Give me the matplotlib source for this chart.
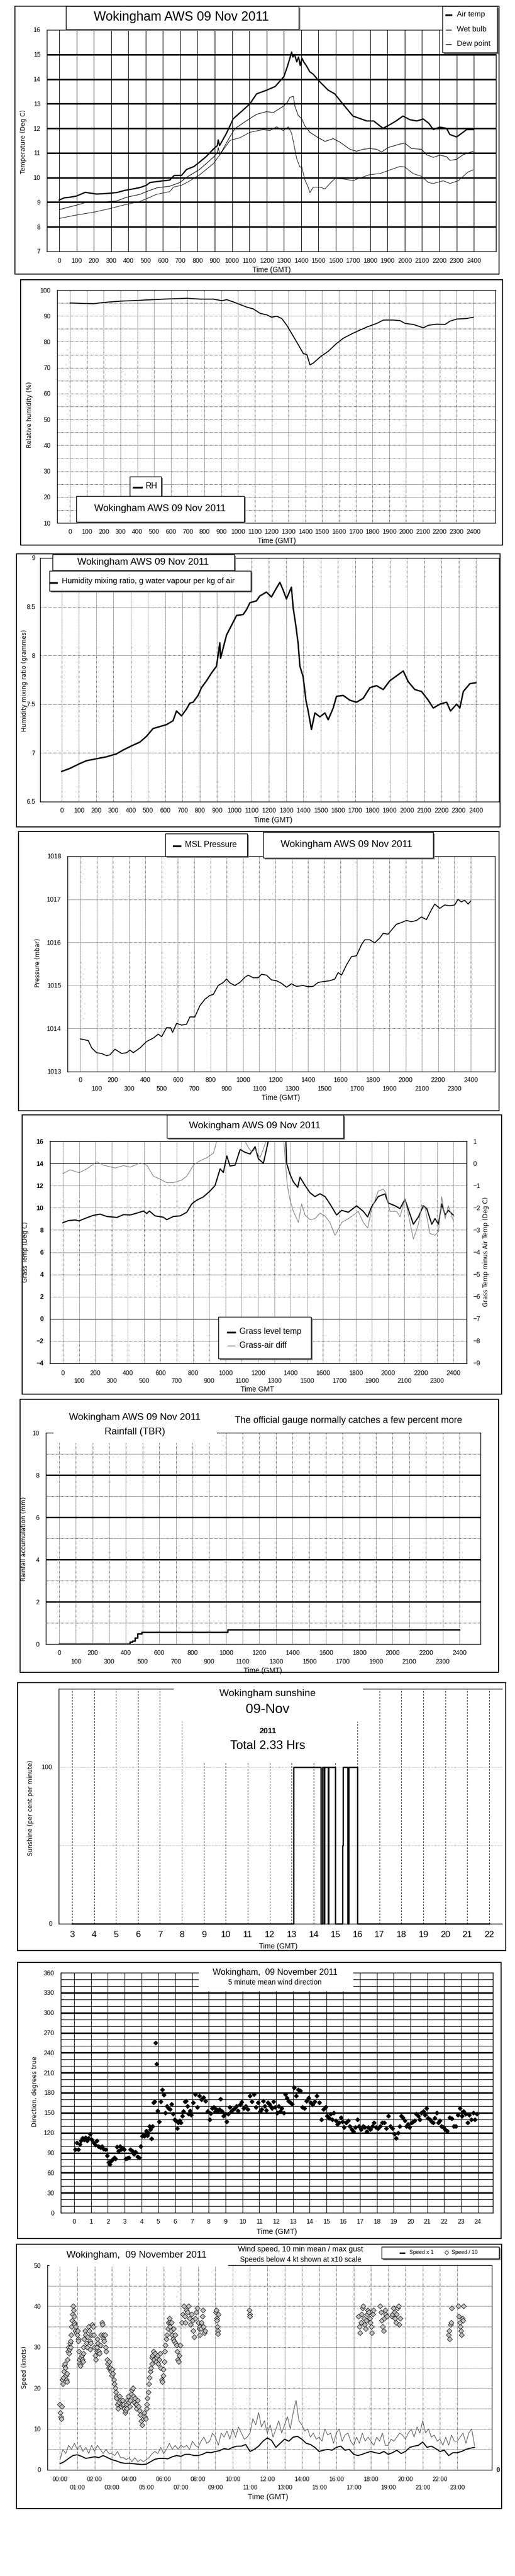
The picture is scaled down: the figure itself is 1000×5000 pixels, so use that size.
import numpy as np
import matplotlib.pyplot as plt
import matplotlib as mpl
from matplotlib.patches import Rectangle
from matplotlib.lines import Line2D

mpl.rcParams['font.family'] = ['Liberation Sans', 'DejaVu Sans']
mpl.rcParams['axes.linewidth'] = 1.0
YFONT = ['DejaVu Sans']

################## data ##################
# times on a linear 0-2400 (hhmm style) axis
air_t = [0, 30, 60, 100, 150, 216, 270, 332, 380, 428, 470, 505, 525, 580, 640, 664, 708, 737, 780, 814,
         850, 891, 915, 920, 928, 968, 1007, 1065, 1104, 1142, 1200, 1250, 1300, 1320, 1335, 1345, 1352, 1362,
         1375, 1385, 1395, 1405, 1415, 1430, 1450, 1470, 1500, 1557, 1595, 1644, 1700, 1740, 1780, 1820, 1856,
         1875, 1900, 1914, 1950, 1990, 2030, 2070, 2107, 2140, 2165, 2203, 2242, 2261, 2300, 2330, 2358, 2396]
air_v = [9.09, 9.18, 9.2, 9.25, 9.4, 9.33, 9.35, 9.39, 9.48, 9.54, 9.6, 9.69, 9.8, 9.85, 9.9, 10.08, 10.09,
         10.33, 10.45, 10.64, 10.85, 11.15, 11.3, 11.53, 11.3, 11.8, 12.39, 12.75, 13.0, 13.4, 13.55, 13.7,
         14.1, 14.5, 14.85, 15.1, 14.9, 15.0, 14.7, 14.9, 14.55, 14.85, 14.7, 14.55, 14.3, 14.2, 13.95, 13.55,
         13.4, 12.97, 12.5, 12.4, 12.3, 12.3, 12.1, 12.0, 12.1, 12.15, 12.3, 12.5, 12.35, 12.3, 12.38, 12.2,
         11.95, 12.05, 12.0, 11.75, 11.65, 11.8, 11.95, 11.95]
wet_t = [0, 100, 158, 230, 332, 390, 467, 505, 563, 640, 698, 737, 814, 891, 915, 920, 930, 988, 1017, 1084,
         1142, 1200, 1239, 1297, 1320, 1335, 1355, 1364, 1383, 1403, 1422, 1451, 1490, 1538, 1586, 1625, 1682,
         1721, 1760, 1798, 1837, 1866, 1904, 1972, 2000, 2039, 2097, 2126, 2165, 2203, 2242, 2261, 2300, 2338,
         2396]
wet_v = [8.7, 8.88, 9.0, 9.0, 9.05, 9.2, 9.32, 9.43, 9.58, 9.65, 9.8, 10.01, 10.34, 10.82, 11.0, 11.22, 10.93,
         11.66, 11.99, 12.31, 12.57, 12.68, 12.64, 12.9, 13.05, 13.26, 13.3, 12.9, 12.53, 12.39, 12.1, 11.84,
         11.66, 11.47, 11.58, 11.44, 11.15, 11.07, 11.15, 11.18, 11.15, 11.04, 11.22, 11.36, 11.4, 11.18, 11.15,
         10.93, 10.82, 10.91, 10.85, 10.7, 10.74, 10.93, 11.07]
dew_t = [0, 100, 197, 293, 370, 467, 505, 563, 640, 660, 708, 747, 814, 891, 930, 988, 1046, 1104, 1181, 1219,
         1258, 1297, 1326, 1345, 1358, 1374, 1393, 1403, 1422, 1441, 1451, 1470, 1509, 1538, 1567, 1596, 1644,
         1702, 1740, 1798, 1856, 1914, 1972, 2000, 2049, 2097, 2136, 2165, 2223, 2261, 2310, 2338, 2367, 2396]
dew_v = [8.34, 8.48, 8.59, 8.74, 8.88, 9.03, 9.14, 9.32, 9.43, 9.61, 9.69, 9.83, 10.12, 10.56, 10.93, 11.51,
         11.62, 11.84, 11.95, 11.91, 12.06, 11.91, 12.06, 11.8, 11.36, 10.78, 10.42, 10.45, 9.9, 9.61, 9.39,
         9.61, 9.61, 9.54, 9.76, 9.96, 9.94, 9.88, 9.98, 10.12, 10.16, 10.31, 10.45, 10.43, 10.16, 10.05, 9.8,
         9.76, 9.87, 9.76, 9.87, 10.05, 10.23, 10.31]

rh_t = [0, 139, 198, 298, 397, 496, 556, 694, 774, 853, 903, 933, 972, 1012, 1052, 1091, 1131, 1171, 1200, 1230,
        1260, 1290, 1329, 1359, 1389, 1409, 1428, 1448, 1488, 1538, 1587, 1627, 1687, 1766, 1825, 1865, 1925,
        1964, 1994, 2044, 2103, 2133, 2183, 2232, 2262, 2302, 2361, 2400]
rh_v = [95.0, 94.7, 95.2, 95.7, 96.0, 96.3, 96.5, 96.8, 96.5, 96.5, 95.9, 96.3, 95.4, 94.4, 93.4, 92.7, 91.0,
        90.4, 89.5, 89.9, 89.0, 86.4, 82.1, 78.8, 75.4, 75.1, 71.1, 71.8, 74.1, 76.4, 79.4, 81.4, 83.4, 85.7,
        87.1, 88.4, 88.4, 88.2, 87.1, 86.7, 85.4, 86.4, 86.8, 86.7, 88.0, 88.8, 89.0, 89.5]

mr_t = [0, 46, 104, 143, 201, 259, 317, 356, 414, 452, 491, 529, 568, 607, 645, 665, 694, 723, 742, 761, 790,
        810, 839, 868, 897, 916, 920, 955, 993, 1013, 1051, 1071, 1090, 1128, 1148, 1186, 1215, 1244, 1264, 1283,
        1302, 1331, 1341, 1357, 1370, 1380, 1399, 1415, 1428, 1447, 1467, 1496, 1525, 1544, 1573, 1592, 1631,
        1670, 1708, 1747, 1786, 1824, 1863, 1901, 1940, 1979, 2008, 2046, 2085, 2124, 2153, 2191, 2230, 2253,
        2288, 2307, 2327, 2365, 2400]
mr_v = [6.81, 6.84, 6.89, 6.92, 6.94, 6.96, 6.99, 7.03, 7.08, 7.11, 7.17, 7.25, 7.27, 7.29, 7.33, 7.43, 7.38,
        7.45, 7.51, 7.52, 7.59, 7.67, 7.74, 7.82, 7.89, 8.13, 7.97, 8.21, 8.34, 8.41, 8.42, 8.47, 8.54, 8.56,
        8.61, 8.65, 8.6, 8.69, 8.75, 8.67, 8.58, 8.70, 8.49, 8.30, 8.12, 7.89, 7.78, 7.54, 7.43, 7.24, 7.41,
        7.37, 7.41, 7.34, 7.46, 7.58, 7.59, 7.54, 7.52, 7.56, 7.67, 7.69, 7.65, 7.74, 7.79, 7.84, 7.73, 7.65,
        7.63, 7.54, 7.46, 7.50, 7.52, 7.43, 7.5, 7.46, 7.63, 7.71, 7.72]

p_t = [0, 49, 70, 100, 131, 162, 182, 213, 254, 285, 305, 326, 367, 408, 449, 479, 500, 530, 555, 567, 592, 623,
       653, 674, 704, 735, 766, 797, 817, 848, 879, 899, 920, 950, 981, 1012, 1032, 1063, 1094, 1114, 1145, 1175,
       1206, 1237, 1268, 1298, 1329, 1370, 1401, 1432, 1462, 1493, 1534, 1565, 1585, 1606, 1637, 1667, 1698,
       1729, 1749, 1780, 1810, 1841, 1862, 1892, 1923, 1943, 1974, 2005, 2036, 2067, 2097, 2128, 2159, 2179,
       2210, 2240, 2271, 2302, 2322, 2343, 2363, 2384, 2400]
p_v = [1013.76, 1013.72, 1013.55, 1013.44, 1013.42, 1013.37, 1013.39, 1013.52, 1013.42, 1013.44, 1013.50,
       1013.44, 1013.55, 1013.70, 1013.78, 1013.87, 1013.81, 1014.02, 1014.02, 1013.91, 1014.12, 1014.08,
       1014.10, 1014.27, 1014.27, 1014.53, 1014.68, 1014.77, 1014.79, 1015.00, 1015.07, 1015.15, 1015.06,
       1015.00, 1015.07, 1015.19, 1015.24, 1015.18, 1015.18, 1015.26, 1015.24, 1015.13, 1015.11, 1015.05,
       1014.96, 1015.04, 1014.98, 1015.00, 1014.97, 1014.98, 1015.07, 1015.09, 1015.11, 1015.15, 1015.30,
       1015.24, 1015.48, 1015.67, 1015.69, 1015.95, 1016.06, 1016.06, 1015.99, 1016.10, 1016.21, 1016.19,
       1016.33, 1016.42, 1016.46, 1016.51, 1016.48, 1016.51, 1016.59, 1016.53, 1016.76, 1016.89, 1016.79,
       1016.87, 1016.85, 1016.87, 1017.00, 1016.94, 1016.98, 1016.89, 1016.96]

grass_t = [0, 35, 76, 100, 147, 188, 229, 270, 332, 373, 414, 455, 496, 516, 532, 567, 618, 639, 680, 721, 762,
           793, 823, 864, 905, 936, 967, 987, 1008, 1028, 1059, 1090, 1120, 1151, 1182, 1202, 1233, 1253, 1270,
           1300, 1340, 1370, 1376, 1397, 1417, 1444, 1458, 1489, 1520, 1550, 1581, 1612, 1642, 1683, 1714, 1755,
           1806, 1847, 1874, 1898, 1939, 1980, 2001, 2042, 2073, 2103, 2124, 2155, 2186, 2216, 2237, 2268, 2288,
           2309, 2329, 2350, 2370, 2400]
grass_v = [8.65, 8.85, 8.9, 8.82, 9.1, 9.32, 9.43, 9.22, 9.13, 9.38, 9.35, 9.52, 9.71, 9.48, 9.71, 9.27, 9.15,
           8.93, 9.22, 9.27, 9.6, 10.35, 10.68, 10.98, 11.51, 12.01, 13.51, 13.18, 14.67, 13.76, 13.84, 15.25,
           15.0, 14.84, 15.5, 14.42, 14.0, 15.33, 16.5, 17.5, 17.5, 16.5, 14.0, 13.0, 12.34, 11.84, 12.76, 12.01,
           11.35, 11.01, 11.26, 11.01, 10.35, 9.35, 9.77, 9.6, 10.18, 9.68, 9.18, 10.1, 11.01, 11.25, 10.43,
           10.18, 9.93, 10.76, 9.85, 8.52, 9.18, 10.18, 9.93, 8.52, 9.02, 8.52, 10.35, 9.35, 9.77, 9.35]
diff_t = [0, 45, 100, 147, 209, 250, 321, 373, 414, 475, 516, 557, 598, 639, 680, 731, 762, 803, 844, 885, 926,
          946, 1000, 1060, 1120, 1141, 1161, 1182, 1212, 1233, 1253, 1300, 1350, 1380, 1397, 1417, 1438, 1448,
          1468, 1489, 1520, 1550, 1581, 1612, 1642, 1673, 1687, 1714, 1755, 1786, 1816, 1847, 1874, 1898, 1939,
          1970, 1986, 2011, 2052, 2073, 2103, 2134, 2155, 2186, 2206, 2227, 2257, 2288, 2309, 2329, 2350, 2370,
          2400]
diff_v = [-0.46, -0.29, -0.42, -0.25, 0.07, -0.08, -0.21, -0.1, -0.17, 0.02, -0.08, -0.58, -0.71, -0.87, -0.87,
          -0.75, -0.58, -0.08, 0.12, 0.25, 0.46, 1.0, 1.6, 1.5, 1.0, 0.71, 0.5, 0.65, 0.25, 0.65, 1.1, 1.8, 1.8,
          -1.0, -1.66, -2.16, -2.49, -2.66, -1.83, -2.33, -2.54, -2.49, -2.24, -2.37, -2.66, -3.24, -3.07, -2.66,
          -2.49, -2.33, -2.16, -2.66, -2.91, -2.08, -1.25, -1.16, -1.33, -2.16, -2.16, -2.41, -1.58, -2.66,
          -3.41, -2.74, -1.87, -2.0, -3.16, -3.24, -3.07, -1.5, -2.49, -1.91, -2.58]

rain_t = [0, 424, 440, 455, 470, 494, 1010, 2400]
rain_v = [0, 0.1, 0.15, 0.3, 0.5, 0.57, 0.68, 0.68]

# sunshine, hours GMT, per cent per minute (step)
sun_t = [3, 13.08, 14.32, 14.40, 14.48, 14.50, 14.66, 14.68, 15.0, 15.31, 15.33, 15.55, 15.61, 15.99, 22]
sun_v = [0, 100, 0, 100, 0, 100, 0, 100, 0, 50, 100, 0, 100, 0, 0]

# 5 minute mean wind direction, grouped by hour
wdir = [
    [95, 105, 95, 103, 108, 112, 110, 113, 108, 112, 118],
    [110, 105, 102, 108, 100, 98, 100, 96, 95, 86],
    [76, 73, 78, 80, 83, 81, 99, 93, 100, 95, 97, 95],
    [81, 82, 83, 95, 93, 88, 91, 84, 83, 100],
    [115, 116, 115, 118, 123, 116, 120, 130, 125, 111, 130, 165, 167, 255, 223, 153],
    [137, 167, 185, 177, 150, 160, 157, 155, 163, 148, 140],
    [138, 127, 135, 138, 135, 145, 152, 167, 168, 160, 148, 153, 147],
    [165, 178, 158, 175, 170, 173, 168, 152],
    [140, 149, 157, 158, 152, 155, 153, 155, 171, 152, 145, 148],
    [137, 148, 158, 152, 155, 157, 160, 153, 162, 166],
    [157, 160, 155, 175, 167, 178, 158, 165],
    [152, 155, 168, 160, 154, 165, 163, 160, 157, 167, 158],
    [150, 160, 152, 157, 150, 178, 172, 168, 165, 163],
    [188, 175, 185, 183, 158, 157, 168, 172],
    [165, 162, 167, 175, 165, 140, 155, 158],
    [145, 142, 148, 140, 150, 138, 133, 135, 143, 137],
    [128, 135, 138, 130, 125, 122, 128, 140, 130],
    [125, 130, 128, 122, 128, 125, 130, 135, 128],
    [127, 130, 135, 135, 127, 145, 130, 127],
    [118, 112, 120, 130, 145, 143, 138, 130, 133, 128],
    [135, 137, 138, 148, 145, 140, 150, 152, 147, 157],
    [142, 140, 137, 135, 142, 150, 135, 138, 130, 128],
    [125, 123, 143, 141, 130, 130, 147, 157],
    [145, 152, 148, 135, 147, 140, 150, 140, 148],
]

# wind speed: 15 min mean (kt) and 10 min max gust (kt)
mean_kt = [1.5, 2, 2.8, 3.5, 3.7, 3.3, 2.8, 3, 3.2, 3, 3.5, 3, 2.5, 2.2, 1.8, 1.6, 1.6, 1.5, 1.4, 1.3,
           1.4, 2, 2.6, 2.8, 2.8, 2.7, 3.2, 3.5, 3.3, 3.8, 3.8, 3.5, 3.5, 3.8, 4.3, 4.2, 4.5, 4.7, 5.2, 5,
           5.5, 5.8, 5.8, 6.2, 4.5, 5, 5.8, 7, 7.8, 7.2, 5.5, 6.5, 7.5, 7, 8, 8.2, 7.5, 6.5, 6.2, 5.5,
           4.5, 4.8, 5, 4.8, 5.5, 5.8, 4.8, 5, 3.8, 3.5, 3.8, 4.2, 4.5, 4.2, 4, 4.5, 3.8, 4.2, 4.8, 4,
           4.5, 5.5, 5.8, 6, 6.8, 5.5, 5.8, 5.2, 4.5, 4.8, 3.5, 4.2, 4.2, 4.5, 5, 5.3, 5.5]
gust_kt = [2.5, 5, 4, 6, 5, 6.5, 5, 6, 4.5, 5.5, 4, 6, 4.5, 6, 5, 4, 5, 4, 4, 3.5, 4.5, 3, 3, 2.5,
           3, 2, 3, 2, 2.5, 2, 2.5, 3, 4, 4.5, 4, 5.5, 4, 5, 6.5, 5, 6, 5, 6, 5.5, 6, 5, 7, 6,
           5.5, 7, 8, 6.5, 7, 9, 8, 6, 9, 8, 9.5, 7.5, 10, 8, 10.5, 9, 7.5, 8, 9, 12.5, 11, 14, 10.5, 12,
           9, 11, 8, 10, 12, 9, 11, 13, 10, 14, 17, 12, 11, 9.5, 10, 8, 9, 7.5, 8, 7, 10, 8.5, 9, 6.5,
           9, 10, 7, 8.5, 9, 7, 6, 8, 6.5, 9, 7, 8, 7, 6, 8, 7, 9, 6, 6, 7.5, 7, 8, 9, 8.5,
           7.5, 9, 10, 8, 10.5, 9, 12, 9, 10, 8, 8.5, 7, 7.5, 6, 8, 6, 8.5, 7, 7, 8, 9, 6.5, 9, 10, 6]
# speeds below 4 kt at x10 scale: (start hour, end hour, values)
slow_groups = [
    (0.00, 0.10, [16, 14, 13, 12.5, 15.5]),
    (0.12, 0.39, [22, 21, 22.5, 24, 25.5, 26, 25, 23, 22, 21.5]),
    (0.39, 0.62, [23.5, 27, 29, 30, 28.5, 29.5, 31, 30]),
    (0.62, 0.81, [31.5, 33, 35, 36.5, 38, 40, 39, 37.5]),
    (0.81, 1.06, [36, 35.5, 34, 35, 33.5, 33, 34, 32]),
    (1.06, 1.35, [31.5, 29, 27, 26, 25.5, 27.5, 28, 27, 26.5, 28.5]),
    (1.35, 1.74, [30, 32, 34, 33, 31, 30, 32.5, 35, 34, 31.5]),
    (1.74, 2.12, [29.5, 31, 33, 35.5, 35, 33, 30, 28, 27, 29]),
    (2.12, 2.51, [30, 32, 31, 29, 28.5, 30.5, 33, 36, 35.5, 33]),
    (2.51, 2.90, [32, 31.5, 33, 30, 29, 27, 26, 25, 26.5, 24.5]),
    (2.90, 3.28, [25, 24, 23, 24.5, 23.5, 22, 21, 20, 19, 18]),
    (3.28, 3.86, [17.5, 16, 15, 16.5, 18, 17, 15.5, 16, 17, 16, 15, 14, 14.5, 16]),
    (3.86, 4.44, [15, 17, 18, 16.5, 15.5, 17, 18.5, 19.5, 20, 18, 16.5, 17.5, 16, 15]),
    (4.44, 5.02, [16, 17, 15.5, 14.5, 13.5, 12, 11, 12.5, 14, 13, 12.5, 15]),
    (5.02, 5.31, [16, 17.5, 19, 21, 22.5, 24, 25, 26]),
    (5.31, 5.98, [27.5, 28, 29, 27, 28.5, 26.5, 27.5, 28, 26, 27, 28.5, 25, 22, 21.5, 23]),
    (5.98, 6.37, [24.5, 26.5, 29, 30.5, 32, 33, 34.5, 36, 37, 36]),
    (6.37, 6.95, [35, 34, 36, 33, 32, 34.5, 31.5, 33, 31, 30.5, 29, 27, 26.5, 28, 30.5]),
    (7.05, 8.11, [36, 38, 40, 37.5, 36, 39, 38.5, 40, 37, 35.5, 38, 36.5, 34, 32.5, 37, 38.5, 39.5, 36, 34.5, 35]),
    (8.11, 8.40, [33, 34.5, 36, 37.5, 39, 35, 33.5, 34]),
    (9.03, 9.17, [38.5, 39, 37, 36.5, 35, 34, 33.2, 38]),
    (10.96, 10.99, [39, 38, 37.5]),
    (17.28, 18.15, [37.5, 35, 33.5, 36, 38, 39.5, 40, 37, 35.5, 34.5, 36.5, 38, 39, 38.5, 37, 36, 35, 33.5, 38, 39]),
    (18.53, 18.92, [40, 38.5, 36.5, 35, 34, 37, 39, 38, 37.5]),
    (19.21, 19.69, [37.5, 38, 39.5, 38.5, 37, 36, 38, 39.5, 40, 35.5, 37]),
    (22.49, 22.68, [33, 34, 32, 35.5, 36, 39.5]),
    (23.07, 23.36, [40, 37.5, 36, 35, 34, 33, 37, 36.5, 40]),
]

hhmm = list(range(0, 2500, 100))
hours = list(range(0, 25))

################## helpers ##################
W, H = 1000, 5000
fig = plt.figure(figsize=(10, 50), dpi=100)


def add_ax(x0, y0, x1, y1):
    ax = fig.add_axes([x0 / W, 1 - y1 / H, (x1 - x0) / W, (y1 - y0) / H])
    ax.tick_params(length=0, labelsize=9, pad=9)
    return ax


def rect(x0, y0, x1, y1, z=1, **kw):
    r = Rectangle((x0 / W, 1 - y1 / H), (x1 - x0) / W, (y1 - y0) / H,
                  transform=fig.transFigure, zorder=z, **kw)
    fig.add_artist(r)


def frame(x0, y0, x1, y1):
    rect(x0, y0, x1, y1, z=1, fill=False, ec='black', lw=1.3)


def box(x0, y0, x1, y1, shadow=True):
    if shadow:
        rect(x0 + 3, y0 + 3, x1 + 3, y1 + 3, z=3, fc='#808080', ec='none')
    rect(x0, y0, x1, y1, z=3.1, fc='white', ec='black', lw=1.0)


def white(x0, y0, x1, y1):
    rect(x0, y0, x1, y1, z=2.5, fc='white', ec='none')


def ftext(x, y, s, size=10, **kw):
    fig.text(x / W, 1 - y / H, s, fontsize=size, ha=kw.pop('ha', 'center'), va=kw.pop('va', 'center'),
             zorder=5, **kw)


def sample(x0, x1, y, **kw):
    fig.add_artist(Line2D([x0 / W, x1 / W], [1 - y / H, 1 - y / H], transform=fig.transFigure, zorder=5, **kw))


def ylab(x, y, s):
    ftext(x, y, s, size=8.5, rotation=90, family=YFONT)


def two_row_x(ax, ticks, labels, pad_top=9, pad_bot=21):
    ax.set_xticks(ticks[::2], labels[::2])
    ax.set_xticks(ticks[1::2], labels[1::2], minor=True)
    ax.tick_params(axis='x', which='major', pad=pad_top, length=0)
    ax.tick_params(axis='x', which='minor', pad=pad_bot, length=0, labelsize=9)


DOT = (0, (1, 1.5))

################## 1: temperatures ##################
frame(29, 12, 969, 532)
ax = add_ax(91, 58, 963, 488)
ax.set_xlim(-72, 2528)
ax.set_ylim(7, 16)
ax.set_xticks(hhmm, [str(h) for h in hhmm])
ax.set_yticks(range(7, 17))
for h in hhmm:
    ax.axvline(h, color='black', lw=0.8, zorder=1)
for v in range(8, 16):
    ax.axhline(v, color='black', lw=2.2, zorder=1)
ax.plot(air_t, air_v, color='black', lw=1.8, zorder=3)
ax.plot(wet_t, wet_v, color='black', lw=0.8, zorder=3)
ax.plot(dew_t, dew_v, color='black', lw=0.7, zorder=3)
box(128, 12, 580, 57)
ftext(352, 33, 'Wokingham AWS 09 Nov 2011', size=18)
box(859, 12, 965, 102)
for yy, lab, lw in [(28, 'Air temp', 2.5), (57, 'Wet bulb', 1.0), (85, 'Dew point', 1.0)]:
    sample(866, 876, yy + 1, color='black', lw=lw)
    ftext(887, yy, lab, size=10.5, ha='left')
ftext(527, 524, 'Time (GMT)', size=10)
ylab(46, 275, 'Temperature (Deg C)')

################## 2: relative humidity ##################
frame(40, 543, 976, 1058)
ax = add_ax(111, 563, 962, 1015)
ax.set_xlim(-77, 2532)
ax.set_ylim(10, 100)
ax.set_xticks(hhmm, [str(h) for h in hhmm])
ax.set_yticks(range(10, 101, 10))
ax.tick_params(axis='x', pad=8.5)
for h in hhmm:
    ax.axvline(h, color='black', lw=0.7, ls=DOT, zorder=1)
for v in range(15, 100, 5):
    ax.axhline(v, color='black', lw=0.7, ls=DOT, zorder=1)
ax.plot(rh_t, rh_v, color='black', lw=1.4, zorder=3)
box(252, 925, 313, 963)
sample(259, 275, 946, color='black', lw=2.5)
ftext(283, 944, 'RH', size=11.5, ha='left')
box(148, 963, 474, 1013)
ftext(311, 988, 'Wokingham AWS 09 Nov 2011', size=13.5)
ftext(537, 1050, 'Time (GMT)', size=10)
ylab(58, 805, 'Relative humidity (%)')

################## 3: mixing ratio ##################
frame(32, 1075, 971, 1605)
ax = add_ax(78, 1083, 969, 1556)
ax.set_xlim(-125, 2534)
ax.set_ylim(6.5, 9)
ax.set_xticks(hhmm, [str(h) for h in hhmm])
ax.set_yticks([6.5, 7, 7.5, 8, 8.5, 9], ['6.5', '7', '7.5', '8', '8.5', '9'])
ax.tick_params(axis='y', pad=7)
for h in hhmm:
    ax.axvline(h, color='black', lw=0.7, ls=DOT, zorder=1)
for v in [7, 7.5, 8, 8.5]:
    ax.axhline(v, color='black', lw=0.7, ls=DOT, zorder=1)
ax.plot(mr_t, mr_v, color='black', lw=2.0, zorder=3)
box(102, 1076, 455, 1107)
ftext(278, 1092, 'Wokingham AWS 09 Nov 2011', size=13.5)
box(96, 1108, 487, 1147)
sample(97, 110, 1131, color='black', lw=2.5)
ftext(120, 1128, 'Humidity mixing ratio, g water vapour per kg of air', size=11, ha='left')
ftext(530, 1592, 'Time (GMT)', size=10)
ylab(48, 1321, 'Humidity mixing ratio (grammes)')

################## 4: pressure ##################
frame(36, 1614, 969, 2156)
ax = add_ax(131, 1662, 961, 2080)
ax.set_xlim(-79, 2549)
ax.set_ylim(1013, 1018)
two_row_x(ax, hhmm, [str(h) for h in hhmm], pad_top=8, pad_bot=20)
ax.set_yticks(range(1013, 1019))
for h in hhmm:
    ax.axvline(h, color='black', lw=0.7, ls=DOT, zorder=1)
for v in range(1014, 1018):
    ax.axhline(v, color='black', lw=0.7, ls=DOT, zorder=1)
ax.plot(p_t, p_v, color='black', lw=1.3, zorder=3)
box(321, 1618, 480, 1662)
sample(337, 350, 1642, color='black', lw=2.5)
ftext(359, 1639, 'MSL Pressure', size=11.5, ha='left')
box(511, 1615, 841, 1665)
ftext(673, 1639, 'Wokingham AWS 09 Nov 2011', size=13.5)
ftext(545, 2131, 'Time (GMT)', size=10)
ylab(73, 1869, 'Pressure (mbar)')

################## 5: grass temperature ##################
frame(43, 2164, 974, 2706)
ax = add_ax(97, 2215, 906, 2646)
ax.set_xlim(-79, 2482)
ax.set_ylim(-4, 16)
two_row_x(ax, hhmm, [str(h) for h in hhmm], pad_top=10, pad_bot=21)
ax.set_yticks(range(-4, 17, 2))
for lab in ax.get_yticklabels():
    lab.set_fontweight('bold')
for h in hhmm:
    ax.axvline(h, color='black', lw=0.7, ls=DOT, zorder=1)
for v in range(-2, 16, 2):
    if v in (0, 14):
        ax.axhline(v, color='black', lw=0.9, zorder=1)
    else:
        ax.axhline(v, color='black', lw=0.7, ls=DOT, zorder=1)
ax.plot(grass_t, grass_v, color='black', lw=1.6, zorder=3)
ax2 = ax.twinx()
ax2.set_ylim(-9, 1)
ax2.set_yticks(range(-9, 2))
ax2.tick_params(length=0, labelsize=9, pad=9)
ax2.plot(diff_t, diff_v, color='#808080', lw=0.9, zorder=2)
box(324, 2164, 667, 2209)
ftext(495, 2186, 'Wokingham AWS 09 Nov 2011', size=13.5)
box(424, 2556, 604, 2637)
sample(442, 456, 2586, color='black', lw=2.5)
ftext(465, 2584, 'Grass level temp', size=11.5, ha='left')
sample(442, 456, 2612, color='#808080', lw=1.0)
ftext(465, 2611, 'Grass-air diff', size=11.5, ha='left')
ftext(500, 2697, 'Time GMT', size=10)
ylab(50, 2430, 'Grass Temp (Deg C)')
ylab(944, 2430, 'Grass Temp minus Air Temp (Deg C)')

################## 6: rainfall ##################
frame(39, 2716, 968, 3246)
ax = add_ax(89, 2781, 933, 3191)
ax.set_xlim(-80, 2527)
ax.set_ylim(0, 10)
two_row_x(ax, hhmm, [str(h) for h in hhmm], pad_top=9, pad_bot=21)
ax.set_yticks(range(0, 11, 2))
for h in hhmm:
    ax.axvline(h, color='black', lw=0.7, ls=DOT, zorder=1)
for v in range(1, 10):
    if v % 2 == 0:
        ax.axhline(v, color='black', lw=2.0, zorder=1)
    else:
        ax.axhline(v, color='black', lw=0.7, ls=DOT, zorder=1)
ax.plot(rain_t, rain_v, color='black', lw=2.0, drawstyle='steps-post', zorder=3)
white(104, 2770, 421, 2800)
ftext(262, 2752, 'Wokingham AWS 09 Nov 2011', size=13.5)
ftext(262, 2779, 'Rainfall (TBR)', size=13.5)
ftext(677, 2757, 'The official gauge normally catches a few percent more', size=13)
ylab(47, 2987, 'Rainfall accumulation (mm)')
ftext(510, 3243, 'Time (GMT)', size=10)

################## 7: sunshine ##################
frame(34, 3266, 982, 3786)
ax = add_ax(114, 3278, 975, 3734)
ax.set_xlim(2.39, 22.59)
ax.set_ylim(0, 150)
ax.spines['right'].set_visible(False)
sun_hours = list(range(3, 23))
ax.set_xticks(sun_hours, [str(h) for h in sun_hours])
ax.tick_params(axis='x', labelsize=12.5, pad=10)
ax.set_yticks([0, 100])
for h in sun_hours:
    ax.axvline(h, color='black', lw=0.7, ls=(0, (3, 3)), zorder=1)
for v in (50, 100):
    ax.axhline(v, color='#a0a0a0', lw=0.8, ls=DOT, zorder=1)
ax.plot(sun_t, sun_v, color='black', lw=1.8, drawstyle='steps-post', zorder=3, clip_on=False)
white(337, 3272, 705, 3342)
white(365, 3272, 680, 3420)
ftext(520, 3288, 'Wokingham sunshine', size=14)
ftext(520, 3318, '09-Nov', size=19)
ftext(520, 3360, '2011', size=11, fontweight='bold')
ftext(520, 3389, 'Total 2.33 Hrs', size=17)
ftext(540, 3778, 'Time (GMT)', size=10)
ylab(60, 3509, 'Sunshine (per cent per minute)')

################## 8: wind direction ##################
frame(34, 3809, 973, 4345)
ax = add_ax(118, 3829, 957, 4295)
ax.set_xlim(-0.8, 24.9)
ax.set_ylim(0, 360)
ax.set_xticks(hours, [str(h) for h in hours])
ax.set_yticks(range(0, 361, 30))
for h in hours:
    ax.axvline(h, color='black', lw=0.8, zorder=1)
for v in range(10, 360, 10):
    ax.axhline(v, color='black', lw=2.2 if v % 30 == 0 else 0.8, zorder=1)
dir_t, dir_v = [], []
for h, vals in enumerate(wdir):
    n = len(vals)
    dir_t += list(h + (np.arange(n) + 0.5) / n)
    dir_v += vals
ax.plot(dir_t, dir_v, ls='none', marker='D', ms=4.5, color='black', zorder=3)
white(386, 3820, 686, 3865)
ftext(534, 3828, 'Wokingham,  09 November 2011', size=12)
ftext(534, 3848, '5 minute mean wind direction', size=10)
ftext(537, 4332, 'Time (GMT)', size=10.5)
ylab(67, 4060, 'Direction, degrees true')

################## 9: wind speed ##################
frame(32, 4356, 974, 4869)
ax = add_ax(92, 4397, 955, 4794)
ax.set_xlim(-0.73, 25.0)
ax.set_ylim(0, 50)
hour_labels = ['%02d:00' % h for h in range(24)]
two_row_x(ax, list(range(24)), hour_labels, pad_top=9, pad_bot=21)
ax.tick_params(axis='x', which='both', labelsize=8.5)
ax.set_yticks(range(0, 51, 10))
for h in range(24):
    ax.axvline(h, color='black', lw=0.7, ls=DOT, zorder=1)
for v in range(5, 50, 5):
    ax.axhline(v, color='black', lw=0.7, ls=DOT, zorder=1)
gust_t = np.arange(len(gust_kt)) / 6.0
mean_t = np.arange(len(mean_kt)) / 4.0
ax.plot(gust_t, gust_kt, color='#505050', lw=0.8, zorder=2)
ax.plot(mean_t, mean_kt, color='black', lw=1.5, zorder=3)
slow_t, slow_v = [], []
for t0, t1, vals in slow_groups:
    slow_t += list(np.linspace(t0, t1, len(vals)))
    slow_v += vals
ax.plot(slow_t, slow_v, ls='none', marker='D', ms=5, mfc='#c0c0c0', mec='black', mew=0.6, zorder=4)
white(96, 4394, 443, 4400)
ftext(265, 4377, 'Wokingham,  09 November 2011', size=13.5)
ftext(584, 4366, 'Wind speed, 10 min mean / max gust', size=10.5)
ftext(584, 4386, 'Speeds below 4 kt shown at x10 scale', size=10)
box(741, 4361, 969, 4384)
sample(777, 785, 4373, color='black', lw=2.0)
ftext(795, 4372, 'Speed x 1', size=7.5, ha='left')
fig.add_artist(Line2D([867 / W], [1 - 4372 / H], transform=fig.transFigure, marker='D', ms=4, mfc='white',
                      mec='black', mew=0.6, zorder=5))
ftext(877, 4372, 'Speed / 10', size=7.5, ha='left')
ftext(967, 4795, '0', size=9, fontweight='bold')
ftext(520, 4847, 'Time (GMT)', size=10.5)
ylab(47, 4595, 'Speed (knots)')

fig.savefig('out.png', dpi=100)
